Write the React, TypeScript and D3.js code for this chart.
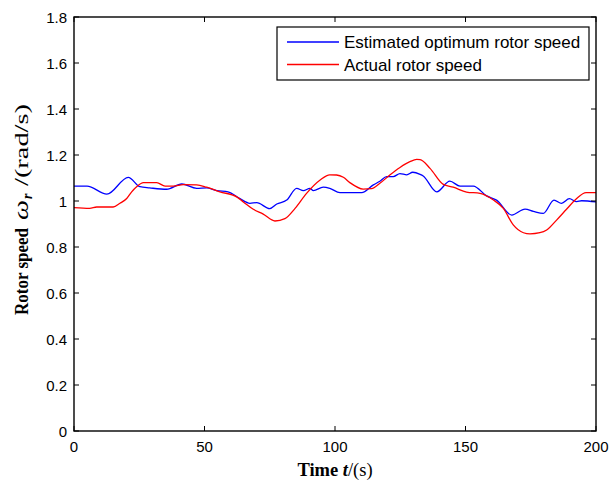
import React from "react";
import * as d3 from "d3";

const estT = [0, 5, 12.6, 20.8, 25.3, 29, 35.5, 41.3, 47, 50.8, 54.7, 59, 63.6, 67.4, 70, 75, 77.7, 81.5, 85.3, 87.9, 90.4, 91.7, 95.5, 98, 101.9, 110.2, 114.7, 117.2, 119.8, 122.3, 124.9, 127.5, 129.8, 132.6, 133.8, 139, 144, 147.9, 153, 158.1, 161.9, 167.7, 172.8, 176, 179.8, 183.9, 186.8, 189.8, 192.6, 194.5, 200];
const estV = [1.065, 1.065, 1.03, 1.103, 1.062, 1.057, 1.051, 1.074, 1.055, 1.057, 1.045, 1.04, 1.01, 0.99, 0.993, 0.967, 0.987, 1.004, 1.055, 1.045, 1.055, 1.045, 1.06, 1.055, 1.036, 1.036, 1.07, 1.086, 1.106, 1.106, 1.119, 1.114, 1.125, 1.116, 1.109, 1.04, 1.086, 1.065, 1.065, 1.022, 1.004, 0.939, 0.965, 0.955, 0.946, 1.004, 0.99, 1.01, 0.997, 1.001, 0.996];

const actT = [0, 6, 8.7, 15, 17.6, 20.2, 22.1, 24, 26.6, 31.7, 34.9, 38, 41.9, 47, 50.8, 55.9, 62.3, 65, 68.7, 72.5, 77, 80.8, 84.7, 89.1, 94.3, 98, 100.6, 103.2, 105.7, 110.8, 114, 117.2, 121, 124.9, 128.7, 131.3, 132.6, 136.4, 141.5, 145.3, 150.4, 155.6, 160.7, 164.5, 168.3, 172.2, 174.7, 178.5, 181.1, 184.9, 188.7, 192.6, 196.2, 200];
const actV = [0.971, 0.968, 0.974, 0.974, 0.99, 1.011, 1.04, 1.062, 1.08, 1.08, 1.065, 1.065, 1.071, 1.07, 1.06, 1.04, 1.018, 0.995, 0.964, 0.943, 0.913, 0.923, 0.968, 1.033, 1.091, 1.114, 1.113, 1.103, 1.08, 1.052, 1.054, 1.077, 1.113, 1.146, 1.171, 1.181, 1.18, 1.142, 1.072, 1.06, 1.039, 1.033, 1.004, 0.968, 0.896, 0.862, 0.857, 0.862, 0.874, 0.917, 0.964, 1.011, 1.036, 1.036];

const xTicks = [0, 50, 100, 150, 200];
const yTicks = [0, 0.2, 0.4, 0.6, 0.8, 1, 1.2, 1.4, 1.6, 1.8];
const legendLabels = ["Estimated optimum rotor speed", "Actual rotor speed"];
const colors = ["#0000ff", "#ff0000"];

export default function App() {
  const W = 611, H = 480;
  const left = 74, right = 596, top = 17, bottom = 431;
  const x = d3.scaleLinear().domain([0, 200]).range([left, right]);
  const y = d3.scaleLinear().domain([0, 1.8]).range([bottom, top]);
  const line = d3.line<[number, number]>().x(d => x(d[0])).y(d => y(d[1])).curve(d3.curveMonotoneX);
  const est = estT.map((t, i) => [t, estV[i]] as [number, number]);
  const act = actT.map((t, i) => [t, actV[i]] as [number, number]);
  const tickLen = 5;
  const tickFont = "Liberation Sans, Arial, sans-serif";
  const serif = "Liberation Serif, Times New Roman, serif";
  const yb = 28; // baseline of rotated y label (page x)
  return (
    <svg width={W} height={H} style={{ position: "absolute", left: 0, top: 0, background: "#fff" }}>
      <rect x={0} y={0} width={W} height={H} fill="#fff" />
      <path d={line(est) || ""} fill="none" stroke={colors[0]} strokeWidth={1.3} />
      <path d={line(act) || ""} fill="none" stroke={colors[1]} strokeWidth={1.3} />
      <rect x={left} y={top} width={right - left} height={bottom - top} fill="none" stroke="#000" strokeWidth={1.4} />
      {xTicks.map(t => (
        <g key={"x" + t}>
          <line x1={x(t)} x2={x(t)} y1={bottom} y2={bottom - tickLen} stroke="#000" />
          <line x1={x(t)} x2={x(t)} y1={top} y2={top + tickLen} stroke="#000" />
          <text x={x(t)} y={bottom + 21} textAnchor="middle" fontFamily={tickFont} fontSize={15}>{t}</text>
        </g>
      ))}
      {yTicks.map(t => (
        <g key={"y" + t}>
          <line x1={left} x2={left + tickLen} y1={y(t)} y2={y(t)} stroke="#000" />
          <line x1={right} x2={right - tickLen} y1={y(t)} y2={y(t)} stroke="#000" />
          <text x={left - 7} y={y(t) + 5.5} textAnchor="end" fontFamily={tickFont} fontSize={15}>{d3.format("~g")(t)}</text>
        </g>
      ))}
      <text x={335} y={476} textAnchor="middle" fontFamily={serif} fontSize={18.5}>
        <tspan fontWeight="bold">Time </tspan>
        <tspan fontStyle="italic" fontWeight="bold">t</tspan>
        <tspan>/(s)</tspan>
      </text>
      <g transform="rotate(-90)">
        <text x={-315} y={yb} fontFamily={serif} fontSize={18} fontWeight="bold" textLength={87} lengthAdjust="spacingAndGlyphs">Rotor speed</text>
        <text x={-220} y={yb} fontFamily={serif} fontSize={20} fontStyle="italic" textLength={20} lengthAdjust="spacingAndGlyphs">ω</text>
        <text x={-199} y={yb + 4} fontFamily={serif} fontSize={14} fontStyle="italic" fontWeight="bold">r</text>
        <text x={-186} y={yb} fontFamily={serif} fontSize={19} textLength={82} lengthAdjust="spacingAndGlyphs">/(rad/s)</text>
      </g>
      <rect x={277} y={27} width={312} height={53} fill="#fff" stroke="#000" strokeWidth={1.2} />
      {legendLabels.map((lab, i) => (
        <g key={lab}>
          <line x1={287} x2={339} y1={42 + i * 22.5} y2={42 + i * 22.5} stroke={colors[i]} strokeWidth={1.3} />
          <text x={344} y={48 + i * 22.5} fontFamily={tickFont} fontSize={17}>{lab}</text>
        </g>
      ))}
    </svg>
  );
}
